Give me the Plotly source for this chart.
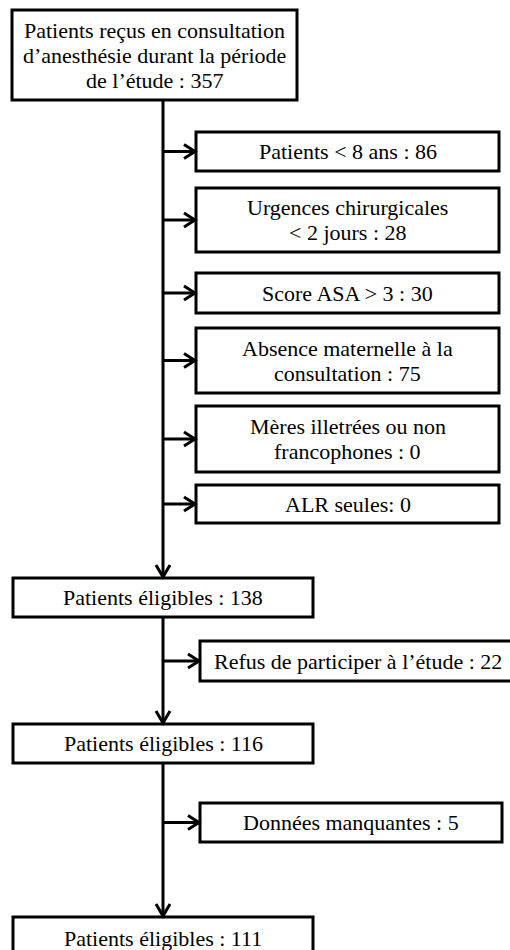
import plotly.graph_objects as go

# ---- data ----
main_labels = [
    "Patients reçus en consultation|d’anesthésie durant la période|de l’étude : {}",
    "Patients éligibles : {}",
    "Patients éligibles : {}",
    "Patients éligibles : {}",
]
main_counts = [357, 138, 116, 111]

excl_labels = [
    "Patients < 8 ans : {}",
    "Urgences chirurgicales|< 2 jours : {}",
    "Score ASA > 3 : {}",
    "Absence maternelle à la|consultation : {}",
    "Mères illetrées ou non|francophones : {}",
    "ALR seules: {}",
    "Refus de participer à l’étude : {}",
    "Données manquantes : {}",
]
excl_counts = [86, 28, 30, 75, 0, 0, 22, 5]

# ---- layout geometry (pixels, y downward) ----
main_boxes = [(12, 297, 10, 100), (13, 313, 578, 617), (13, 313, 724, 763), (13, 313, 917, 959)]
excl_boxes = [(196, 499, 132, 171), (196, 499, 188, 252), (196, 499, 273, 313),
              (196, 499, 328, 393), (196, 499, 406, 472), (196, 499, 485, 523),
              (200, 516, 641, 681), (200, 502, 803, 842)]
spine_x = 163
LW = 3
FONT = dict(family="Liberation Serif, Times New Roman, serif", size=22, color="black")
SPACING = 25

fig = go.Figure()
shapes = []
annotations = []


def add_box(box, template, count):
    x0, x1, y0, y1 = box
    shapes.append(dict(type="rect", x0=x0, x1=x1, y0=y0, y1=y1,
                       line=dict(color="black", width=LW), fillcolor="white", layer="above"))
    lines = template.format(count).split("|")
    cy = (y0 + y1) / 2
    n = len(lines)
    for i, t in enumerate(lines):
        annotations.append(dict(x=(x0 + x1) / 2, y=cy + (i - (n - 1) / 2) * SPACING,
                                text=t, showarrow=False, font=FONT,
                                xanchor="center", yanchor="middle"))


for b, t, c in zip(main_boxes, main_labels, main_counts):
    add_box(b, t, c)
for b, t, c in zip(excl_boxes, excl_labels, excl_counts):
    add_box(b, t, c)

line_style = dict(color="black", width=LW)

# vertical spine segments with down arrows
for upper, lower in zip(main_boxes[:-1], main_boxes[1:]):
    y_start = upper[3]
    y_end = lower[2]
    shapes.append(dict(type="line", x0=spine_x, x1=spine_x, y0=y_start, y1=y_end - 1, line=line_style))
    shapes.append(dict(type="path",
                       path=f"M {spine_x-7},{y_end-13} L {spine_x},{y_end-1} L {spine_x+7},{y_end-13}",
                       line=line_style))

# horizontal branches with right arrows
for b in excl_boxes:
    x0, x1, y0, y1 = b
    cy = (y0 + y1) / 2
    shapes.append(dict(type="line", x0=spine_x, x1=x0 - 1, y0=cy, y1=cy, line=line_style))
    shapes.append(dict(type="path",
                       path=f"M {x0-12},{cy-7} L {x0-1},{cy} L {x0-12},{cy+7}",
                       line=line_style))

fig.update_layout(
    width=510, height=950,
    margin=dict(l=0, r=0, t=0, b=0),
    paper_bgcolor="white", plot_bgcolor="white",
    xaxis=dict(range=[0, 510], visible=False, fixedrange=True),
    yaxis=dict(range=[950, 0], visible=False, fixedrange=True),
    shapes=shapes, annotations=annotations, showlegend=False,
)

fig.write_html("out.html", config={"displayModeBar": False},
               post_script="document.body.style.margin='0';document.body.style.overflow='hidden';")
